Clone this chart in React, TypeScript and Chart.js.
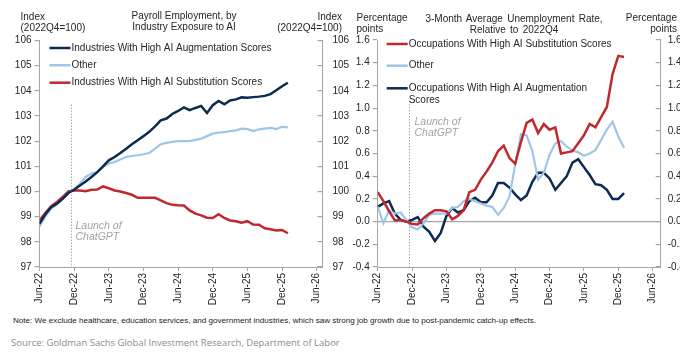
import React, { useEffect, useRef } from 'react';
import { Chart, registerables } from 'chart.js';

Chart.register(...registerables);

// ---------- data ----------
const X_TICK_LABELS = ['Jun-22', 'Dec-22', 'Jun-23', 'Dec-23', 'Jun-24', 'Dec-24', 'Jun-25', 'Dec-25', 'Jun-26'];
const MONTHS_PER_TICK = 6;
const X_MAX_LEFT = 49;
const X_MAX_RIGHT = 49.4;
const LAUNCH_MONTH = 5.4; // months after Jun-22

const LEFT_SERIES_NAMES = [
  'Industries With High AI Augmentation Scores',
  'Other',
  'Industries With High AI Substitution Scores',
];
const RIGHT_SERIES_NAMES = [
  'Occupations With High AI Substitution Scores',
  'Other',
  'Occupations With High AI Augmentation Scores',
];

// Payroll employment index (2022Q4=100), monthly from Jun-22
const PAYROLL_AUGMENTATION = [
  98.72, 99.09, 99.38, 99.51, 99.71, 99.94, 100.07, 100.24, 100.4, 100.58,
  100.77, 101.0, 101.24, 101.37, 101.53, 101.7, 101.88, 102.04, 102.2, 102.37,
  102.59, 102.83, 102.9, 103.08, 103.2, 103.34, 103.23, 103.32, 103.4, 103.12,
  103.43, 103.6, 103.47, 103.62, 103.66, 103.74, 103.73, 103.75, 103.77, 103.8,
  103.87, 104.02, 104.18, 104.32,
];
const PAYROLL_OTHER = [
  98.6, 99.0, 99.31, 99.49, 99.71, 99.94, 100.1, 100.31, 100.58, 100.71,
  100.77, 100.97, 101.11, 101.17, 101.27, 101.37, 101.41, 101.44, 101.48, 101.53,
  101.7, 101.88, 101.93, 101.97, 102.0, 102.0, 102.0, 102.05, 102.1, 102.2,
  102.3, 102.34, 102.36, 102.4, 102.43, 102.5, 102.48, 102.4, 102.47, 102.5,
  102.53, 102.48, 102.57, 102.55,
];
const PAYROLL_SUBSTITUTION = [
  98.85, 99.14, 99.41, 99.58, 99.78, 100.0, 100.04, 100.04, 100.01, 100.07,
  100.08, 100.2, 100.13, 100.04, 100.0, 99.94, 99.87, 99.75, 99.75, 99.75,
  99.75, 99.65, 99.54, 99.47, 99.45, 99.44, 99.25, 99.12, 99.05, 98.96,
  98.95, 99.1, 98.95, 98.85, 98.82, 98.76, 98.82, 98.69, 98.68, 98.54,
  98.5, 98.45, 98.47, 98.34,
];

// 3-month average unemployment rate relative to 2022Q4 (pp), monthly from Jun-22
const UNEMP_SUBSTITUTION = [
  0.26, 0.18, 0.09, 0.01, 0.015, 0.0, -0.02, -0.025, 0.03, 0.07,
  0.1, 0.1, 0.09, 0.02, 0.05, 0.1, 0.26, 0.28, 0.37, 0.44,
  0.52, 0.62, 0.67, 0.56, 0.51, 0.7, 0.87, 0.9, 0.78, 0.86,
  0.81, 0.83, 0.6, 0.61, 0.62, 0.69, 0.76, 0.86, 0.83, 0.92,
  1.01, 1.3, 1.46, 1.45,
];
const UNEMP_OTHER = [
  0.13, -0.015, 0.1, 0.07, 0.08, 0.015, -0.05, -0.07, -0.015, 0.06,
  0.07, 0.07, 0.07, 0.12, 0.13, 0.18, 0.2, 0.18, 0.16, 0.14,
  0.13, 0.06, 0.12, 0.22, 0.5, 0.77, 0.76, 0.62, 0.37, 0.43,
  0.59, 0.69, 0.71, 0.66, 0.63, 0.61, 0.58, 0.6, 0.63, 0.72,
  0.81, 0.88, 0.75, 0.65,
];
const UNEMP_AUGMENTATION = [
  0.13, 0.16, 0.18, 0.07, 0.015, 0.0, 0.015, 0.04, -0.045, -0.09,
  -0.17, -0.1, 0.05, 0.12, 0.08, 0.1, 0.18, 0.21, 0.17, 0.17,
  0.23, 0.34, 0.34, 0.3, 0.24, 0.19, 0.23, 0.35, 0.43, 0.43,
  0.38, 0.28, 0.34, 0.4, 0.52, 0.55, 0.48, 0.41, 0.33, 0.32,
  0.28, 0.2, 0.2, 0.25,
];

// ---------- styles ----------
const NAVY = '#0c2b50';
const LIGHT = '#9fc6e8';
const RED = '#c1272d';
const AXIS = '#a6a6a6';
const TEXT = '#262626';
const FONT_FAMILY = '"Liberation Sans", Arial, Helvetica, sans-serif';

Chart.defaults.font.family = FONT_FAMILY;

const toPoints = (arr: number[]) => arr.map((y, i) => ({ x: i, y }));

function wrapText(ctx: CanvasRenderingContext2D, text: string, maxW: number): string[] {
  const words = text.split(' ');
  const lines: string[] = [];
  let cur = '';
  for (const w of words) {
    const test = cur ? cur + ' ' + w : w;
    if (ctx.measureText(test).width > maxW && cur) {
      lines.push(cur);
      cur = w;
    } else {
      cur = test;
    }
  }
  if (cur) lines.push(cur);
  return lines;
}

const overlayPlugin = {
  id: 'overlay',
  afterDatasetsDraw(chart: any, _args: any, opts: any) {
    const ctx: CanvasRenderingContext2D = chart.ctx;
    const area = chart.chartArea;
    const xs = chart.scales.x;
    const ys = chart.scales.y;
    ctx.save();
    // dotted launch line
    const lx = Math.round(xs.getPixelForValue(opts.launchX)) + 0.5;
    const top = ys.getPixelForValue(opts.launchTop);
    ctx.strokeStyle = '#808080';
    ctx.lineWidth = 1;
    ctx.setLineDash([1, 2]);
    ctx.beginPath();
    ctx.moveTo(lx, top);
    ctx.lineTo(lx, area.bottom);
    ctx.stroke();
    ctx.setLineDash([]);
    // annotation
    ctx.font = 'italic 10.5px ' + FONT_FAMILY;
    ctx.fillStyle = '#a3a3a3';
    ctx.textAlign = 'left';
    ctx.textBaseline = 'middle';
    const ay = ys.getPixelForValue(opts.annoY);
    opts.annoLines.forEach((t: string, k: number) => {
      ctx.fillText(t, lx + opts.annoDx, ay + k * 11);
    });
    // legend
    ctx.font = '10px ' + FONT_FAMILY;
    chart.data.datasets.forEach((ds: any, i: number) => {
      const y = area.top + opts.rowY[i];
      ctx.strokeStyle = ds.borderColor;
      ctx.lineWidth = 2.5;
      ctx.beginPath();
      ctx.moveTo(area.left + opts.x0, y);
      ctx.lineTo(area.left + opts.x1, y);
      ctx.stroke();
      ctx.fillStyle = TEXT;
      const lines = wrapText(ctx, ds.label, opts.wrap);
      lines.forEach((ln, k) => ctx.fillText(ln, area.left + opts.x1 + 1, y + k * 12.4));
    });
    ctx.restore();
  },
};

function baseX(xMax: number) {
  return {
    type: 'linear',
    min: 0,
    max: xMax,
    afterBuildTicks: (axis: any) => {
      axis.ticks = X_TICK_LABELS.map((_, i) => ({ value: i * MONTHS_PER_TICK }));
    },
    afterFit: (axis: any) => {
      axis.height = 45;
    },
    ticks: {
      autoSkip: false,
      minRotation: 90,
      maxRotation: 90,
      padding: 2,
      color: TEXT,
      font: { size: 10 },
      callback: (_v: any, i: number) => X_TICK_LABELS[i] ?? '',
    },
    grid: { drawOnChartArea: false, tickLength: 4, tickColor: AXIS },
    border: { color: AXIS, width: 1 },
  };
}

function yAxis(position: string, min: number, max: number, step: number, width: number, pad: number, tickLen: number, fmt: (v: number) => string, zeroLine: boolean) {
  return {
    type: 'linear',
    position,
    min,
    max,
    afterFit: (axis: any) => {
      axis.width = width;
    },
    ticks: { stepSize: step, padding: pad, color: TEXT, font: { size: 10 }, callback: (v: any) => fmt(Number(v)) },
    grid: {
      drawOnChartArea: zeroLine,
      color: (c: any) => (zeroLine && c.tick && Math.abs(c.tick.value) < 1e-9 ? AXIS : 'rgba(0,0,0,0)'),
      lineWidth: 1.2,
      tickLength: tickLen,
      tickColor: AXIS,
    },
    border: { color: AXIS, width: 1 },
  };
}

function lineDs(label: string, data: number[], color: string, width: number) {
  return {
    label,
    data: toPoints(data),
    borderColor: color,
    backgroundColor: color,
    borderWidth: width,
    pointRadius: 0,
    tension: 0,
    fill: false,
  };
}

function leftConfig(): any {
  return {
    type: 'line',
    data: {
      datasets: [
        lineDs(LEFT_SERIES_NAMES[0], PAYROLL_AUGMENTATION, NAVY, 2.5),
        lineDs(LEFT_SERIES_NAMES[1], PAYROLL_OTHER, LIGHT, 2.2),
        lineDs(LEFT_SERIES_NAMES[2], PAYROLL_SUBSTITUTION, RED, 2.5),
      ],
    },
    options: {
      animation: false,
      responsive: false,
      devicePixelRatio: 1,
      layout: { padding: { left: 0, right: 0, top: 40.5, bottom: 0 } },
      plugins: {
        legend: { display: false },
        tooltip: { enabled: false },
        overlay: {
          launchX: LAUNCH_MONTH,
          launchTop: 103.45,
          annoY: 98.63,
          annoDx: 4,
          annoLines: ['Launch of', 'ChatGPT'],
          rowY: [7.5, 24.7, 42.2],
          x0: 10,
          x1: 31,
          wrap: 999,
        },
      },
      scales: {
        x: baseX(X_MAX_LEFT),
        y: yAxis('left', 97, 106, 1, 39.5, 3, 5, (v) => String(Math.round(v)), false),
        y2: yAxis('right', 97, 106, 1, 27.5, 15, -5, (v) => String(Math.round(v)), false),
      },
    },
    plugins: [overlayPlugin],
  };
}

function rightConfig(): any {
  const fmt = (v: number) => v.toFixed(1);
  return {
    type: 'line',
    data: {
      datasets: [
        lineDs(RIGHT_SERIES_NAMES[0], UNEMP_SUBSTITUTION, RED, 2.5),
        lineDs(RIGHT_SERIES_NAMES[1], UNEMP_OTHER, LIGHT, 2.2),
        lineDs(RIGHT_SERIES_NAMES[2], UNEMP_AUGMENTATION, NAVY, 2.5),
      ],
    },
    options: {
      animation: false,
      responsive: false,
      devicePixelRatio: 1,
      layout: { padding: { left: 0, right: 0, top: 40, bottom: 0 } },
      plugins: {
        legend: { display: false },
        tooltip: { enabled: false },
        overlay: {
          launchX: LAUNCH_MONTH,
          launchTop: 1.06,
          annoY: 0.88,
          annoDx: 5,
          annoLines: ['Launch of', 'ChatGPT'],
          rowY: [4, 25.7, 48.3],
          x0: 9,
          x1: 30,
          wrap: 207,
        },
      },
      scales: {
        x: baseX(X_MAX_RIGHT),
        y: yAxis('left', -0.4, 1.6, 0.2, 27.7, 3, 5, fmt, true),
        y2: yAxis('right', -0.4, 1.6, 0.2, 19.3, 12, -5, fmt, false),
      },
    },
    plugins: [overlayPlugin],
  };
}

function ChartCanvas({ config, left, width, height }: { config: () => any; left: number; width: number; height: number }) {
  const ref = useRef<HTMLCanvasElement | null>(null);
  useEffect(() => {
    if (!ref.current) return;
    const chart = new Chart(ref.current, config());
    return () => chart.destroy();
  }, [config]);
  return (
    <canvas
      ref={ref}
      width={width}
      height={height}
      style={{ position: 'absolute', left, top: 0, width, height }}
    />
  );
}

const txt: React.CSSProperties = {
  position: 'absolute',
  fontFamily: FONT_FAMILY,
  fontSize: 10,
  lineHeight: '11px',
  color: TEXT,
  whiteSpace: 'nowrap',
};

export default function App() {
  return (
    <div style={{ position: 'absolute', left: 0, top: 0, width: 680, height: 353, background: '#fff', overflow: 'hidden' }}>
      <ChartCanvas config={leftConfig} left={0} width={350} height={312} />
      <ChartCanvas config={rightConfig} left={350} width={330} height={312} />

      <div style={{ ...txt, left: 20.5, top: 11 }}>Index<br />(2022Q4=100)</div>
      <div style={{ ...txt, left: 84, width: 200, top: 9.5, textAlign: 'center' }}>
        Payroll Employment, by<br />Industry Exposure to AI
      </div>
      <div style={{ ...txt, left: 242, width: 100, top: 11, textAlign: 'right' }}>Index<br />(2022Q4=100)</div>

      <div style={{ ...txt, left: 356.5, top: 11.8 }}>Percentage<br />points</div>
      <div style={{ ...txt, left: 414, width: 200, top: 12.8, textAlign: 'center', wordSpacing: 1.5 }}>
        3-Month Average Unemployment Rate,<br />Relative to 2022Q4
      </div>
      <div style={{ ...txt, left: 580, width: 97, top: 11.8, textAlign: 'right' }}>Percentage<br />points</div>

      <div style={{ ...txt, left: 13, top: 316, fontSize: 8.1, lineHeight: '10px', color: '#1a1a1a' }}>
        Note: We exclude healthcare, education services, and government industries, which saw strong job growth due to post-pandemic catch-up effects.
      </div>
      <div style={{ ...txt, left: 11, top: 336, fontFamily: '"Open Sans", sans-serif', fontSize: 9.5, lineHeight: '14px', color: '#8c8c8c' }}>
        Source: Goldman Sachs Global Investment Research, Department of Labor
      </div>
    </div>
  );
}
